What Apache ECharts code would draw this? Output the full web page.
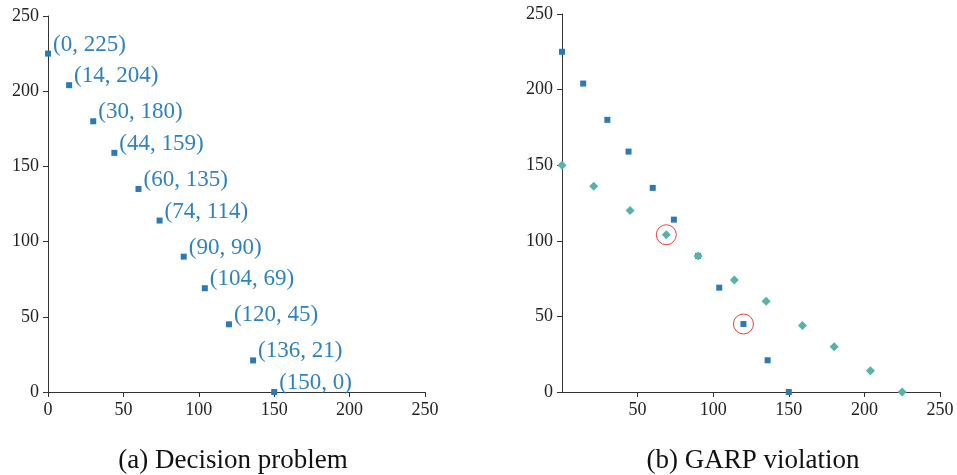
<!DOCTYPE html>
<html>
<head>
<meta charset="utf-8">
<script src="https://cdn.jsdelivr.net/npm/echarts@6/dist/echarts.min.js"></script>
<style>html,body{margin:0;padding:0;background:#fff;}#c{width:957px;height:475px;}</style>
</head>
<body>
<div id="c"></div>
<script>
// Data
var decisionX = [0, 14, 30, 44, 60, 74, 90, 104, 120, 136, 150];
var decisionY = [225, 204, 180, 159, 135, 114, 90, 69, 45, 21, 0];
var garpX = [0, 21, 45, 69, 90, 114, 135, 159, 180, 204, 225];
var garpY = [150, 136, 120, 104, 90, 74, 60, 44, 30, 14, 0];
var violations = [[69, 104], [120, 45]];
var axisTicks = [0, 50, 100, 150, 200, 250];
var captions = ['(a) Decision problem', '(b) GARP violation'];

var FONT = "'Liberation Serif', 'Times New Roman', serif";
var BLUE = '#2a7ab9';
var TEAL = '#55b3aa';
var AXIS = '#333333';

function pts(xs, ys) { return xs.map(function (x, i) { return [x, ys[i]]; }); }

function xAxisCfg(gi, showZero) {
  return {
    type: 'value', gridIndex: gi, min: axisTicks[0], max: axisTicks[axisTicks.length - 1], interval: 50,
    splitLine: { show: false },
    axisLine: { onZero: false, lineStyle: { color: AXIS, width: 1 } },
    axisTick: { show: true, length: 5, lineStyle: { color: AXIS } },
    axisLabel: { color: '#222', fontFamily: FONT, fontSize: 18, margin: 9, showMinLabel: showZero }
  };
}
function yAxisCfg(gi) {
  return {
    type: 'value', gridIndex: gi, min: axisTicks[0], max: axisTicks[axisTicks.length - 1], interval: 50,
    splitLine: { show: false },
    axisLine: { onZero: false, lineStyle: { color: AXIS, width: 1 } },
    axisTick: { show: true, length: 5, lineStyle: { color: AXIS } },
    axisLabel: { color: '#222', fontFamily: FONT, fontSize: 18, margin: 9 }
  };
}

var chart = echarts.init(document.getElementById('c'), null, { renderer: 'canvas' });
chart.setOption({
  animation: false,
  backgroundColor: '#fff',
  title: [
    { text: captions[0], left: 228, top: 442, textAlign: 'center',
      textStyle: { fontFamily: FONT, fontSize: 27, fontWeight: 'normal', color: '#111' } },
    { text: captions[1], left: 748, top: 442, textAlign: 'center',
      textStyle: { fontFamily: FONT, fontSize: 27, fontWeight: 'normal', color: '#111' } }
  ],
  grid: [
    { left: 48, top: 16, width: 377, height: 376 },
    { left: 562, top: 14, width: 378, height: 378 }
  ],
  xAxis: [xAxisCfg(0, true), xAxisCfg(1, false)],
  yAxis: [yAxisCfg(0), yAxisCfg(1)],
  series: [
    {
      type: 'scatter', xAxisIndex: 0, yAxisIndex: 0,
      data: pts(decisionX, decisionY),
      symbol: 'rect', symbolSize: 6,
      itemStyle: { color: BLUE, opacity: 1 },
      label: {
        show: true, position: 'right', distance: 2, offset: [0, -9],
        fontFamily: FONT, fontSize: 23, color: '#2f82bf',
        formatter: function (p) { return '(' + p.value[0] + ', ' + p.value[1] + ')'; }
      }
    },
    {
      type: 'scatter', xAxisIndex: 1, yAxisIndex: 1,
      data: pts(decisionX, decisionY),
      symbol: 'rect', symbolSize: 6,
      itemStyle: { color: BLUE, opacity: 1 }
    },
    {
      type: 'scatter', xAxisIndex: 1, yAxisIndex: 1,
      data: pts(garpX, garpY),
      symbol: 'diamond', symbolSize: 9,
      itemStyle: { color: TEAL, opacity: 1 }
    },
    {
      type: 'scatter', xAxisIndex: 1, yAxisIndex: 1,
      data: violations,
      symbol: 'circle', symbolSize: 20,
      itemStyle: { color: 'none', borderColor: '#e8413c', borderWidth: 1, opacity: 1 }
    }
  ]
});
</script>
</body>
</html>
